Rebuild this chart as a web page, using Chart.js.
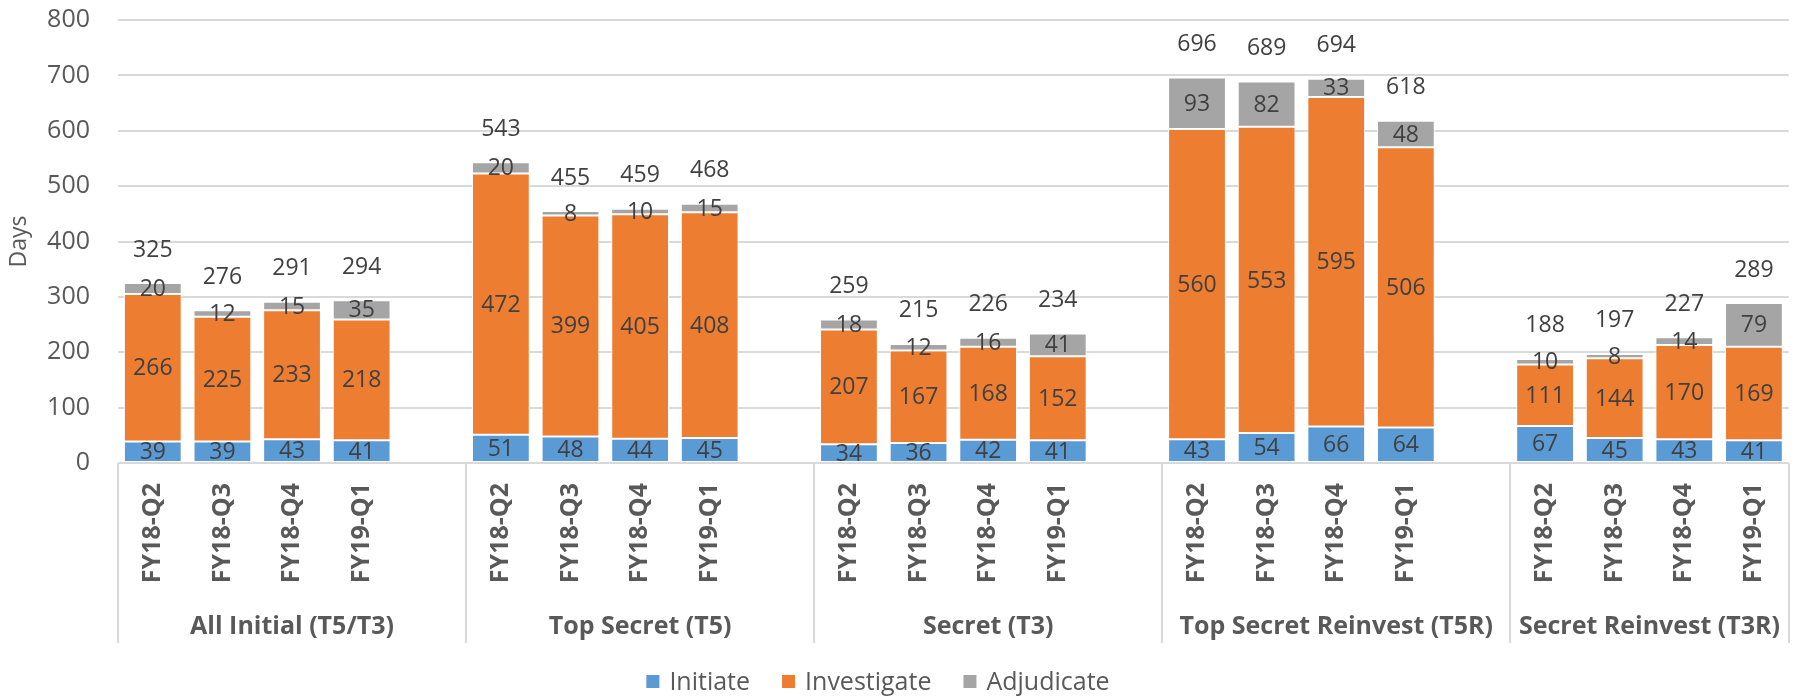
<!DOCTYPE html>
<html>
<head>
<meta charset="utf-8">
<script src="https://cdn.jsdelivr.net/npm/chart.js@4.4.0/dist/chart.umd.min.js"></script>
<style>
  html, body { margin: 0; padding: 0; background: #fff; }
  canvas { display: block; }
</style>
</head>
<body>
<canvas id="myChart" width="1804" height="697"></canvas>
<script>
const groups = ['All Initial (T5/T3)', 'Top Secret (T5)', 'Secret (T3)', 'Top Secret Reinvest (T5R)', 'Secret Reinvest (T3R)'];
const quarters = ['FY18-Q2', 'FY18-Q3', 'FY18-Q4', 'FY19-Q1'];

// one value per group/quarter, in group order
const initiate    = [39, 39, 43, 41,   51, 48, 44, 45,   34, 36, 42, 41,   43, 54, 66, 64,   67, 45, 43, 41];
const investigate = [266, 225, 233, 218,   472, 399, 405, 408,   207, 167, 168, 152,   560, 553, 595, 506,   111, 144, 170, 169];
const adjudicate  = [20, 12, 15, 35,   20, 8, 10, 15,   18, 12, 16, 41,   93, 82, 33, 48,   10, 8, 14, 79];

const seriesNames = ['Initiate', 'Investigate', 'Adjudicate'];
const seriesColors = ['#5B9BD5', '#ED7D31', '#A5A5A5'];

// lay out slots: 4 quarters per group, blank slot between groups
const labels = [];
const slotInit = [], slotInv = [], slotAdj = [], totals = [];
const groupStart = [];
groups.forEach((g, gi) => {
  groupStart.push(labels.length);
  quarters.forEach((q, qi) => {
    const k = gi * quarters.length + qi;
    labels.push(q);
    slotInit.push(initiate[k]);
    slotInv.push(investigate[k]);
    slotAdj.push(adjudicate[k]);
    totals.push(initiate[k] + investigate[k] + adjudicate[k]);
  });
  if (gi < groups.length - 1) {
    labels.push('');
    slotInit.push(null); slotInv.push(null); slotAdj.push(null); totals.push(null);
  }
});
groupStart.push(labels.length);

const FONT = '"Open Sans", "DejaVu Sans", sans-serif';

const extras = {
  id: 'extras',
  afterDatasetsDraw(chart) {
    const ctx = chart.ctx;
    const xs = chart.scales.x, ys = chart.scales.y;
    ctx.save();
    ctx.font = '23px ' + FONT;
    ctx.fillStyle = '#404040';
    ctx.textAlign = 'center';
    ctx.textBaseline = 'middle';
    chart.data.datasets.forEach((ds, i) => {
      chart.getDatasetMeta(i).data.forEach((bar, j) => {
        if (ds.data[j] == null) return;
        ctx.fillText(String(ds.data[j]), bar.x, (bar.y + bar.base) / 2 + 1);
      });
    });
    totals.forEach((t, j) => {
      if (t == null) return;
      ctx.fillText(String(t), xs.getPixelForValue(j), ys.getPixelForValue(t) - 33);
    });
    ctx.restore();
  },
  afterDraw(chart) {
    const ctx = chart.ctx;
    const area = chart.chartArea;
    const slot = (area.right - area.left) / labels.length;
    ctx.save();
    // group separators
    ctx.strokeStyle = '#D9D9D9';
    ctx.lineWidth = 2;
    groupStart.forEach((s) => {
      const px = Math.round(area.left + s * slot);
      ctx.beginPath();
      ctx.moveTo(px, area.bottom);
      ctx.lineTo(px, area.bottom + 180);
      ctx.stroke();
    });
    // group labels
    ctx.font = 'bold 25px ' + FONT;
    ctx.fillStyle = '#595959';
    ctx.textAlign = 'center';
    ctx.textBaseline = 'middle';
    groups.forEach((g, gi) => {
      const cx = area.left + (groupStart[gi] + groupStart[gi + 1]) / 2 * slot;
      ctx.fillText(g, cx, area.bottom + 164);
    });
    // legend
    ctx.font = '25px ' + FONT;
    const box = 13, gapText = 10, gapItem = 32;
    const widths = seriesNames.map((n) => box + gapText + ctx.measureText(n).width);
    const total = widths.reduce((a, b) => a + b, 0) + gapItem * (widths.length - 1);
    let lx = 878 - total / 2;
    const ly = 683;
    ctx.textAlign = 'left';
    seriesNames.forEach((n, i) => {
      ctx.fillStyle = seriesColors[i];
      ctx.fillRect(lx, ly - 8, box, box);
      ctx.fillStyle = '#595959';
      ctx.fillText(n, lx + box + gapText, ly);
      lx += widths[i] + gapItem;
    });
    ctx.restore();
  }
};

const makeSet = (i, values) => ({
  label: seriesNames[i],
  data: values,
  backgroundColor: seriesColors[i],
  borderColor: '#FFFFFF',
  borderWidth: 1,
  borderSkipped: false,
  categoryPercentage: 0.83,
  barPercentage: 1.0,
});

const ctx = document.getElementById('myChart').getContext('2d');
const myChart = new Chart(ctx, {
  type: 'bar',
  data: {
    labels: labels,
    datasets: [makeSet(0, slotInit), makeSet(1, slotInv), makeSet(2, slotAdj)]
  },
  plugins: [extras],
  options: {
    responsive: false,
    animation: false,
    layout: { padding: { top: 20, right: 4, bottom: 54, left: 0 } },
    plugins: {
      legend: { display: false },
      tooltip: { enabled: false },
    },
    scales: {
      x: {
        stacked: true,
        grid: { display: false, drawTicks: false },
        border: { display: false },
        ticks: {
          autoSkip: false,
          minRotation: 90,
          maxRotation: 90,
          padding: 20,
          color: '#595959',
          font: { family: FONT, size: 25, weight: 'bold' },
        },
        afterFit(scale) {
          scale.height = 180;
          scale.paddingTop = 0;
          scale.paddingBottom = 0;
        },
      },
      y: {
        stacked: true,
        min: 0,
        max: 800,
        grid: { color: '#D9D9D9', lineWidth: 2, drawTicks: false },
        border: { display: false },
        ticks: {
          stepSize: 100,
          padding: 28,
          color: '#595959',
          font: { family: FONT, size: 25 },
        },
        title: {
          display: true,
          text: 'Days',
          color: '#595959',
          font: { family: FONT, size: 23 },
          padding: { top: 6, bottom: 0 },
        },
        afterFit(scale) {
          scale.width = 118;
          scale.paddingTop = 0;
          scale.paddingBottom = 0;
        },
      }
    }
  }
});
</script>
</body>
</html>
